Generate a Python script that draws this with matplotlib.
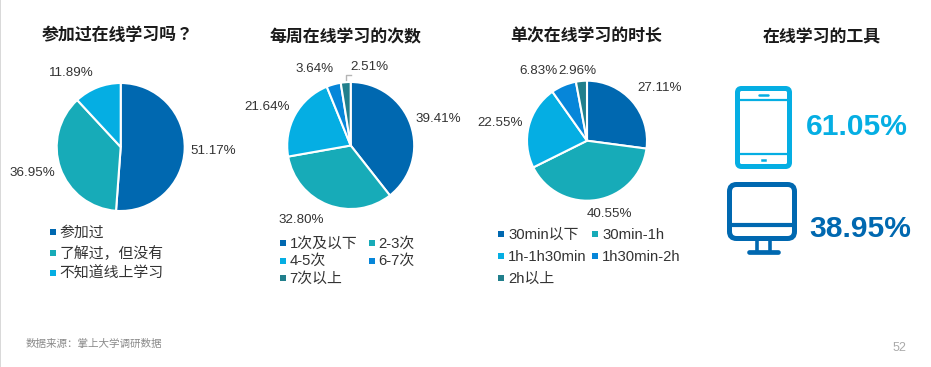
import matplotlib
matplotlib.use("Agg")
import matplotlib.pyplot as plt
from matplotlib.patches import FancyBboxPatch, Rectangle

plt.rcParams['font.family'] = ['Liberation Sans', 'Noto Sans CJK SC', 'DejaVu Sans']

# --- data ---
titles = ['参加过在线学习吗？', '每周在线学习的次数', '单次在线学习的时长', '在线学习的工具']
joined_labels = ['参加过', '了解过，但没有', '不知道线上学习']
joined_values = [51.17, 36.95, 11.89]
weekly_labels = ['1次及以下', '2-3次', '4-5次', '6-7次', '7次以上']
weekly_values = [39.41, 32.80, 21.64, 3.64, 2.51]
duration_labels = ['30min以下', '30min-1h', '1h-1h30min', '1h30min-2h', '2h以上']
duration_values = [27.11, 40.55, 22.55, 6.83, 2.96]
tablet_share = 61.05
desktop_share = 38.95

# --- style ---
W, H = 931, 367
DARK, TEAL, SKY, BLUE, DEEP = '#0068B0', '#17ABB8', '#05AEE3', '#0686D9', '#217F8C'
colors = [DARK, TEAL, SKY, BLUE, DEEP]
TEXT = '#333333'

fig = plt.figure(figsize=(W / 100, H / 100), dpi=100, facecolor='white')
page = fig.add_axes([0, 0, 1, 1])
page.set_xlim(0, W)
page.set_ylim(H, 0)
page.axis('off')


def put(x, y, s, **kw):
    kw.setdefault('ha', 'center')
    kw.setdefault('va', 'center')
    kw.setdefault('color', TEXT)
    kw.setdefault('fontsize', 10)
    page.text(x, y, s, **kw)


def draw_pie(cx, cy, r, values, label_xy):
    pad = r + 2
    ax = fig.add_axes([(cx - pad) / W, 1 - (cy + pad) / H, 2 * pad / W, 2 * pad / H])
    ax.pie(values, colors=colors[:len(values)], startangle=90, counterclock=False,
           radius=r / pad, wedgeprops=dict(edgecolor='white', linewidth=1.5))
    ax.set_xlim(-1, 1)
    ax.set_ylim(-1, 1)
    ax.set_aspect('equal')
    for v, (x, y) in zip(values, label_xy):
        put(x, y, f'{v:.2f}%', fontsize=9.6)


def draw_legend(labels, rows, col_x, row_y):
    for i, lab in enumerate(labels):
        r, c = rows[i]
        x, y = col_x[c], row_y[r]
        page.add_patch(Rectangle((x - 3, y - 3), 6, 6, color=colors[i], lw=0))
        put(x + 7, y + 0.6, lab, ha='left', fontsize=10.7)


# titles (the first uses a CJK face whose full-width question mark is centred)
title_fonts = [['Noto Sans CJK JP'], None, None, None]
for (x, y), t, fam in zip([(118, 35), (345, 37), (586, 37), (822, 37)], titles, title_fonts):
    kw = {'family': fam} if fam else {}
    put(x, y, t, fontsize=12.2, fontweight='bold', color='#1a1a1a', **kw)

# pies
draw_pie(120.7, 147, 64, joined_values, [(213.7, 150.7), (32, 173), (71.7, 72.7)])
draw_pie(350.7, 145.5, 63.5, weekly_values,
         [(438.7, 119), (301.7, 220), (266.7, 106.7), (315, 69.3), (369.3, 67.3)])
draw_pie(587, 140.7, 60, duration_values,
         [(659.3, 88.3), (609.3, 214.3), (500, 122.7), (539, 70.7), (577, 70.7)])

# leader line of the smallest slice
page.plot([345.5, 345.5, 351], [82, 75, 75], color='#b5b5b5', lw=1)

# legends
draw_legend(joined_labels, [(0, 0), (1, 0), (2, 0)], [52.7], [232, 252.7, 272.7])
draw_legend(weekly_labels, [(0, 0), (0, 1), (1, 0), (1, 1), (2, 0)],
            [282.7, 371.7], [243, 260.7, 278])
draw_legend(duration_labels, [(0, 0), (0, 1), (1, 0), (1, 1), (2, 0)],
            [501, 595], [234, 256, 278])


# tablet icon
def round_box(x0, y0, x1, y1, color, lw, rad):
    page.add_patch(FancyBboxPatch((x0 + rad, y0 + rad), x1 - x0 - 2 * rad, y1 - y0 - 2 * rad,
                                  boxstyle=f'round,pad={rad},rounding_size={rad}',
                                  fc='none', ec=color, lw=lw, mutation_aspect=1))


round_box(737.5, 88.5, 789.5, 166.5, SKY, 3.6, 4)
page.plot([738, 789], [99.5, 99.5], color=SKY, lw=1.6)
page.plot([738, 789], [154, 154], color=SKY, lw=1.6)
page.plot([759, 768], [95, 95], color=SKY, lw=1.8, solid_capstyle='round')
page.plot([761.5, 765], [160, 160], color=SKY, lw=1.8)

# monitor icon
round_box(729.5, 184.5, 794.5, 238.5, DARK, 3.6, 7)
page.plot([730, 794], [225, 225], color=DARK, lw=3)
page.plot([756.5, 756.5], [240, 251], color=DARK, lw=2.6)
page.plot([770, 770], [240, 251], color=DARK, lw=2.6)
page.plot([749, 778], [251.5, 251.5], color=DARK, lw=3.4, solid_capstyle='round')

put(857, 127, f'{tablet_share:.2f}%', fontsize=21.6, fontweight='bold', color=SKY)
put(860.5, 229, f'{desktop_share:.2f}%', fontsize=21.6, fontweight='bold', color=DARK)

# footer
put(26, 344, '数据来源：掌上大学调研数据', ha='left', fontsize=7.6, color='#8a8a8a')
put(899, 348, '52', fontsize=9, color='#aaaaaa')

# left page edge
page.add_patch(Rectangle((0, 0), 1.2, H, color='#d9d9d9', lw=0))

fig.savefig('out.png', dpi=100, facecolor='white')
